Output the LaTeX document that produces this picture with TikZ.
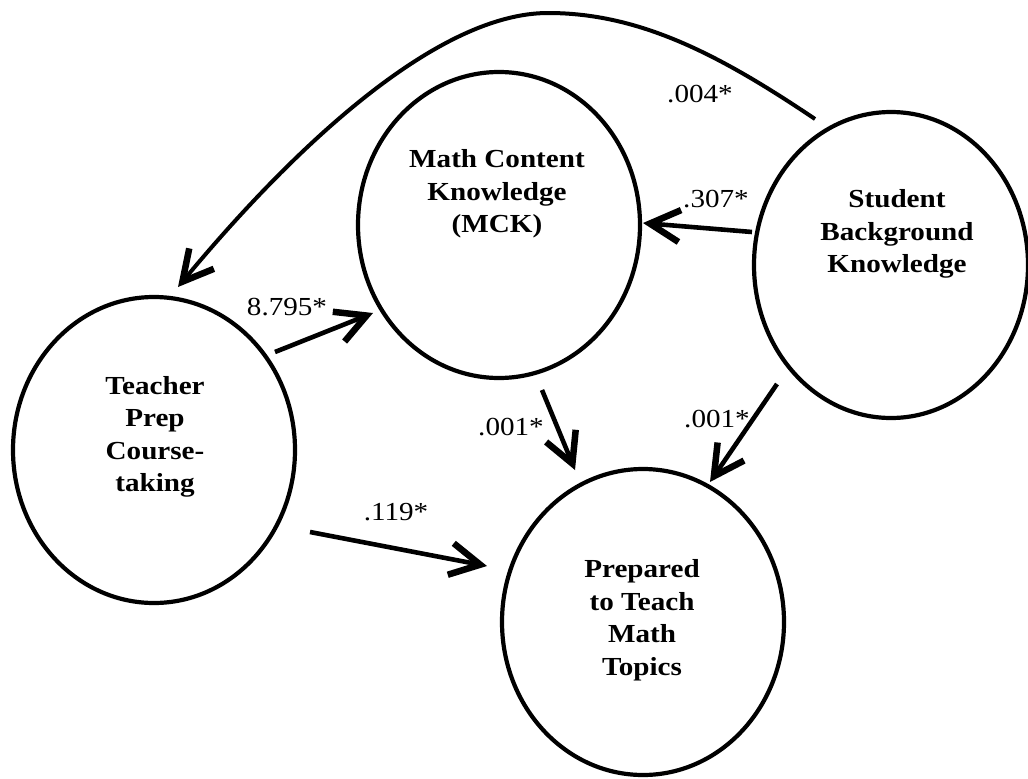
\documentclass[tikz,border=0pt]{standalone}
\usepackage{fontspec}
\setmainfont{Liberation Serif}[FakeStretch=1.12]
\usetikzlibrary{arrows.meta,shapes.geometric}
\begin{document}
\begin{tikzpicture}[x=1pt,y=-1pt,
  latent/.style={draw, ellipse, line width=4.2pt, minimum width=282pt, minimum height=306pt, inner sep=0pt},
  lbl/.style={font=\fontsize{26}{32.5}\selectfont\bfseries, align=center, inner sep=0pt},
  coef/.style={font=\fontsize{26}{30}\selectfont, inner sep=0pt},
  link/.style={line width=4.6pt, -{Straight Barb[length=30pt,width=32pt,line width=6.5pt]}}]
\useasboundingbox (0,0) rectangle (1028,779);
% ellipses
\node[latent] (T) at (154,450) {};
\node[latent] (M) at (499,225) {};
\node[latent, minimum width=274pt] (S) at (891,265) {};
\node[latent] (P) at (643,622) {};
% texts
\node[lbl] (Tt) at (155,437) {Teacher\\Prep\\Course-\\taking};
\node[lbl] (Mt) at (497,194) {Math Content\\Knowledge\\(MCK)};
\node[lbl] (St) at (897,234) {Student\\Background\\Knowledge};
\node[lbl] (Pt) at (642,620) {Prepared\\to Teach\\Math\\Topics};
% connector end points
\coordinate (a1s) at (815,119); \coordinate (a1e) at (178,287);
\coordinate (pk) at (548,13);
\coordinate (a2s) at (752,232); \coordinate (a2e) at (643,223);
\coordinate (a3s) at (275,352); \coordinate (a3e) at (373,313);
\coordinate (a4s) at (542,390); \coordinate (a4e) at (575,470);
\coordinate (a5s) at (777,384); \coordinate (a5e) at (710,482);
\coordinate (a6s) at (310,532); \coordinate (a6e) at (487,566);
% connectors
\draw[link, line width=4pt] (a1s) .. controls (720,55) and (640,13) .. (pk) .. controls (440,13) and (300,140) .. (a1e);
\draw[link] (a2s) -- (a2e);
\draw[link] (a3s) -- (a3e);
\draw[link] (a4s) -- (a4e);
\draw[link] (a5s) -- (a5e);
\draw[link] (a6s) -- (a6e);
% coefficients
\node[coef] (c1) at (700,94) {.004*};
\node[coef] (c2) at (716,199) {.307*};
\node[coef] (c3) at (287,307) {8.795*};
\node[coef] (c4) at (511,427) {.001*};
\node[coef] (c5) at (717,419) {.001*};
\node[coef] (c6) at (396,512) {.119*};
\end{tikzpicture}
\end{document}
